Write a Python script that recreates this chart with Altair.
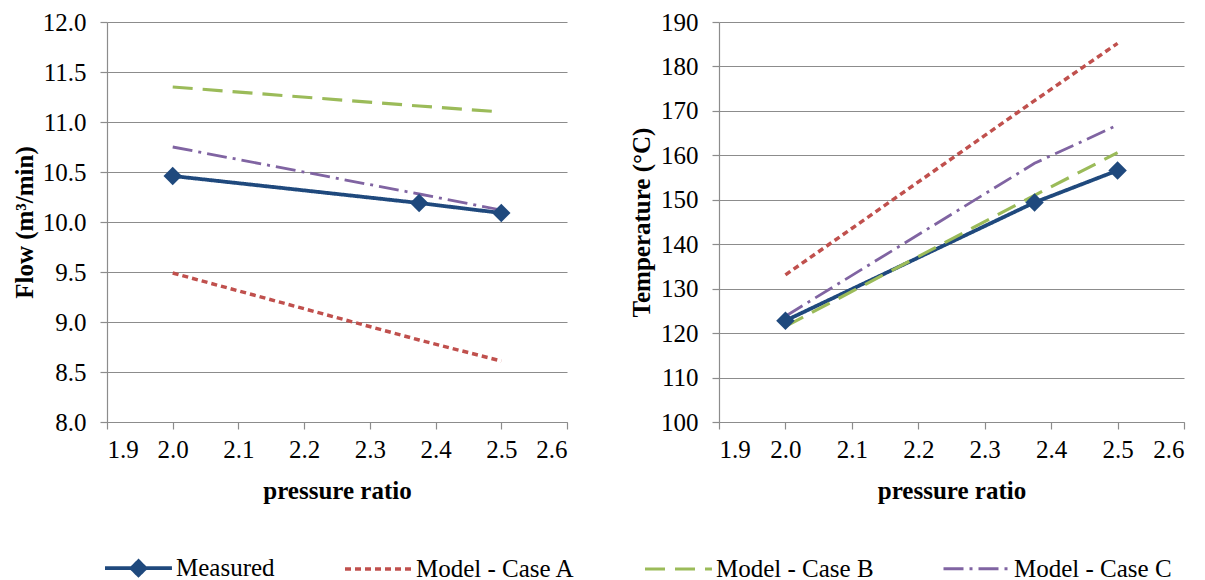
import altair as alt
import pandas as pd

# ---- data ----
pressure_ratio = [2.0, 2.375, 2.5]
series_names = ["Measured", "Model - Case A", "Model - Case B", "Model - Case C"]

flow_measured = [10.46, 10.19, 10.09]
flow_case_a = [9.49, 8.82, 8.61]
flow_case_b = [11.35, 11.16, 11.10]
flow_case_c = [10.75, 10.28, 10.12]

temp_measured = [122.8, 149.4, 156.6]
temp_case_a = [133.1, 172.3, 185.2]
temp_case_b = [121.5, 151.0, 160.6]
temp_case_c = [123.8, 158.2, 166.8]

x_ticks = [1.9, 2.0, 2.1, 2.2, 2.3, 2.4, 2.5, 2.6]
flow_ticks = [8.0, 8.5, 9.0, 9.5, 10.0, 10.5, 11.0, 11.5, 12.0]
temp_ticks = [100, 110, 120, 130, 140, 150, 160, 170, 180, 190]

colors = ["#1F497D", "#C0504D", "#9BBB59", "#8064A2"]
dashes = [[1, 0], [6, 4], [20, 10], [20, 6, 3, 6]]
widths = [3.8, 2.8, 2.5, 2.5]

flow_all = [flow_measured, flow_case_a, flow_case_b, flow_case_c]
temp_all = [temp_measured, temp_case_a, temp_case_b, temp_case_c]

rows = []
for name, fv, tv in zip(series_names, flow_all, temp_all):
    for x, f, t in zip(pressure_ratio, fv, tv):
        rows.append({"pr": x, "series": name, "flow": f, "temp": t})
df = pd.DataFrame(rows)

FONT = "Liberation Serif, Times New Roman, Tinos, DejaVu Serif, serif"
FS = 25

# legend symbols: a 67px line (custom path, size 576 -> radius 12) with a diamond for Measured
line_path = "M-1,0L4.58,0"
measured_path = "M-1,0L4.58,0M1.79,-0.58L2.37,0L1.79,0.58L1.21,0Z"

legend = alt.Legend(
    title=None,
    orient="none",
    legendX=-4,
    legendY=532,
    direction="horizontal",
    symbolType=alt.ExprRef(
        f"datum.value === 'Measured' ? '{measured_path}' : '{line_path}'"
    ),
    symbolFillColor=alt.ExprRef("datum.value === 'Measured' ? '#1F497D' : 'transparent'"),
    symbolSize=576,
    symbolStrokeWidth=2.6,
    labelFont=FONT,
    labelFontSize=FS,
    labelColor="black",
    labelOffset=45,
    columnPadding=63,
    symbolLimit=0,
)

color_enc = alt.Color("series:N", scale=alt.Scale(domain=series_names, range=colors), legend=legend)
dash_enc = alt.StrokeDash("series:N", scale=alt.Scale(domain=series_names, range=dashes), legend=legend)
width_enc = alt.StrokeWidth("series:N", scale=alt.Scale(domain=series_names, range=widths), legend=None)

x_enc = alt.X(
    "pr:Q",
    scale=alt.Scale(domain=[1.9, 2.6], nice=False, zero=False),
    axis=alt.Axis(title="pressure ratio", values=x_ticks, format=".1f", grid=False,
                  labelPadding=8, titlePadding=16),
)


def panel(field, title, ticks, domain, width, title_pad):
    y_enc = alt.Y(
        f"{field}:Q",
        scale=alt.Scale(domain=domain, nice=False, zero=False),
        axis=alt.Axis(title=title, values=ticks, format=".1f" if field == "flow" else "d",
                      labelPadding=14, titlePadding=title_pad),
    )
    lines = alt.Chart(df).mark_line().encode(
        x=x_enc, y=y_enc, color=color_enc, strokeDash=dash_enc, strokeWidth=width_enc,
        order=alt.Order("pr:Q"),
    )
    pts = alt.Chart(df).transform_filter(alt.datum.series == "Measured").mark_point(
        shape="diamond", filled=True, size=340, opacity=1, color="#1F497D"
    ).encode(x=x_enc, y=y_enc)
    return alt.layer(lines, pts).properties(width=width, height=400)


left = panel("flow", "Flow (m³/min)", flow_ticks, [8, 12], 460, 5)
right = panel("temp", "Temperature (°C)", temp_ticks, [100, 190], 465, 6)

chart = (
    alt.hconcat(left, right, spacing=61)
    .properties(padding={"left": 4, "top": 2, "right": 2, "bottom": 0})
    .configure_view(stroke=None)
    .configure_axis(
        labelFont=FONT,
        labelFontSize=FS,
        labelColor="black",
        titleFont=FONT,
        titleFontSize=FS,
        titleFontWeight="bold",
        titleColor="black",
        domainColor="#8C8C8C",
        domainWidth=1.2,
        tickColor="#8C8C8C",
        tickSize=7,
        tickWidth=1.2,
        gridColor="#8C8C8C",
        gridWidth=1.2,
    )
)

chart.save("out.html", embed_options={"renderer": "svg", "actions": False})
